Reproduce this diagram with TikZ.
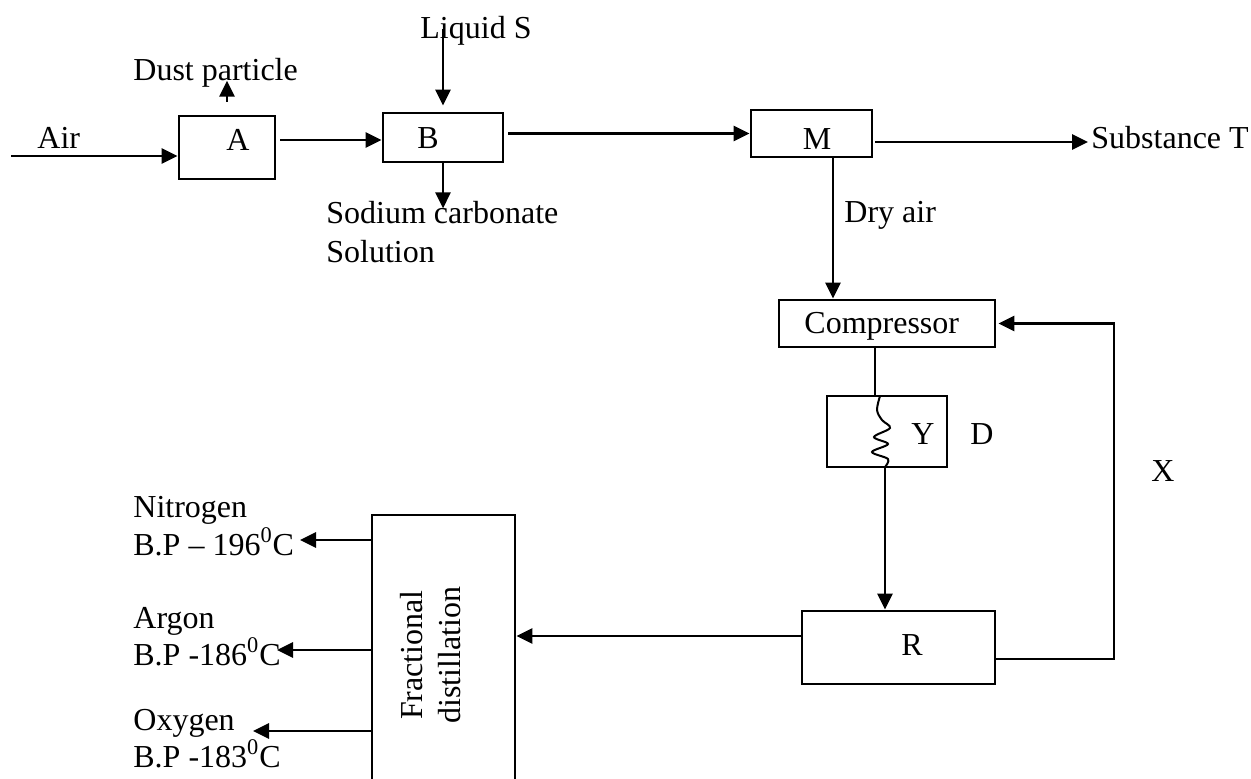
\documentclass[tikz,border=0pt]{standalone}
\usepackage{fontspec}
\setmainfont{Liberation Serif}
\usetikzlibrary{arrows.meta,calc}
\begin{document}
\begin{tikzpicture}[x=0.5pt,y=-0.5pt,
  font=\fontsize{16}{19}\selectfont,
  line width=1.4pt,
  box/.style={draw, line width=1.4pt, inner sep=0pt},
  txt/.style={inner sep=0pt, anchor=base west},
  ctxt/.style={inner sep=0pt, anchor=base},
  arr/.style={-{Triangle[length=8pt,width=7.5pt]}}]
\useasboundingbox (0,0) rectangle (1251,778);
\clip (0,0) rectangle (1251,778);
% boxes
\node[box, minimum width=48pt, minimum height=31.5pt] (A) at (227,147.5) {};
\node[box, minimum width=60pt, minimum height=24.5pt] (B) at (443,137.5) {};
\node[box, minimum width=60.5pt, minimum height=23.5pt] (M) at (811.5,133.5) {};
\node[box, minimum width=108pt, minimum height=23.5pt] (Comp) at (887,323.5) {};
\node[box, minimum width=60pt, minimum height=35.5pt] (D) at (887,431.5) {};
\node[box, minimum width=96.5pt, minimum height=36.5pt] (R) at (898.5,647.5) {};
\node[box, minimum width=71.5pt, minimum height=142.5pt] (F) at (443.5,657.5) {};
% texts
\node[txt] (airt) at (36,148) {Air};
\node[ctxt] (At) at (238,150) {A};
\node[txt] (dust) at (132,80) {Dust particle};
\node[txt] (liq) at (419,38) {Liquid S};
\node[ctxt] (Bt) at (428,148) {B};
\node[txt] (sod) at (325,223) {Sodium carbonate};
\node[txt] (sol) at (325,262) {Solution};
\node[ctxt] (Mt) at (817,149) {M};
\node[txt] (SubT) at (1090,148) {Substance T};
\node[txt] (dry) at (843,222) {Dry air};
\node[txt] (Compt) at (803,333) {Compressor};
\node[ctxt] (Yt) at (923,444) {Y};
\node[ctxt] (Dt) at (982,444) {D};
\node[ctxt] (Xt) at (1163,481) {X};
\node[ctxt] (Rt) at (912,655) {R};
\node[txt] (n1) at (132,517) {Nitrogen};
\node[txt] (n2) at (132,555) {B.P – 196\textsuperscript{0}C};
\node[txt] (a1) at (132,628) {Argon};
\node[txt] (a2) at (132,665) {B.P -186\textsuperscript{0}C};
\node[txt] (o1) at (132,730) {Oxygen};
\node[txt] (o2) at (132,767) {B.P -183\textsuperscript{0}C};
\node[inner sep=0pt, rotate=90, align=center] (Ft) at (431,655) {Fractional\\distillation};
% coordinates
\coordinate (airin) at (11,156);
\coordinate (loop) at (1114,0);
\coordinate (nN) at (300,540);
\coordinate (nA) at (277,650);
\coordinate (nO) at (253,731);
\coordinate (ab) at ($(A.east |- B.west)+(4,2.5)$);
\coordinate (bm) at ($(B.east |- M.west)+(4,0)$);
\coordinate (mdry) at ($(M.south)+(21.5,0)$);
\coordinate (cd) at ($(Comp.south)+(-12,0)$);
\coordinate (dr) at ($(D.south)+(-2,0)$);
\coordinate (rf) at ($(R.west)+(0,-11.5)$);
\coordinate (rl) at ($(R.east)+(0,11.5)$);
% connectors
\draw[arr] (airin) -- (airin -| A.west);
\draw[arr] (ab) -- (ab -| B.west);
\draw[arr] ($(A.north)+(0,-13)$) -- ($(A.north)+(0,-34)$);
\draw[arr] ($(B.north)+(0,-83)$) -- ($(B.north)+(0,-6)$);
\draw[arr] (B.south) -- ($(B.south)+(0,45)$);
\draw[arr] (bm) -- (M.west);
\draw[arr] ($(M.east)+(2,8.5)$) -- ($(SubT.base west)+(-2,-6)$);
\draw[arr] (mdry) -- (mdry |- Comp.north);
\draw (cd) -- (cd |- D.north);
\draw[line width=1pt] plot[smooth, tension=0.55] coordinates {(880,396) (877,410) (882,420) (890,428) (874,437) (888,444) (872,452) (888,459) (885,467)};
\draw[arr] (dr) -- (dr |- R.north);
\draw[arr] (rf) -- (rf -| F.east);
\draw[arr] (rl) -| (loop |- Comp.east) -- ($(Comp.east)+(2,0)$);
\draw[arr] (F.west |- nN) -- (nN);
\draw[arr] (F.west |- nA) -- (nA);
\draw[arr] (F.west |- nO) -- (nO);
\end{tikzpicture}
\end{document}
